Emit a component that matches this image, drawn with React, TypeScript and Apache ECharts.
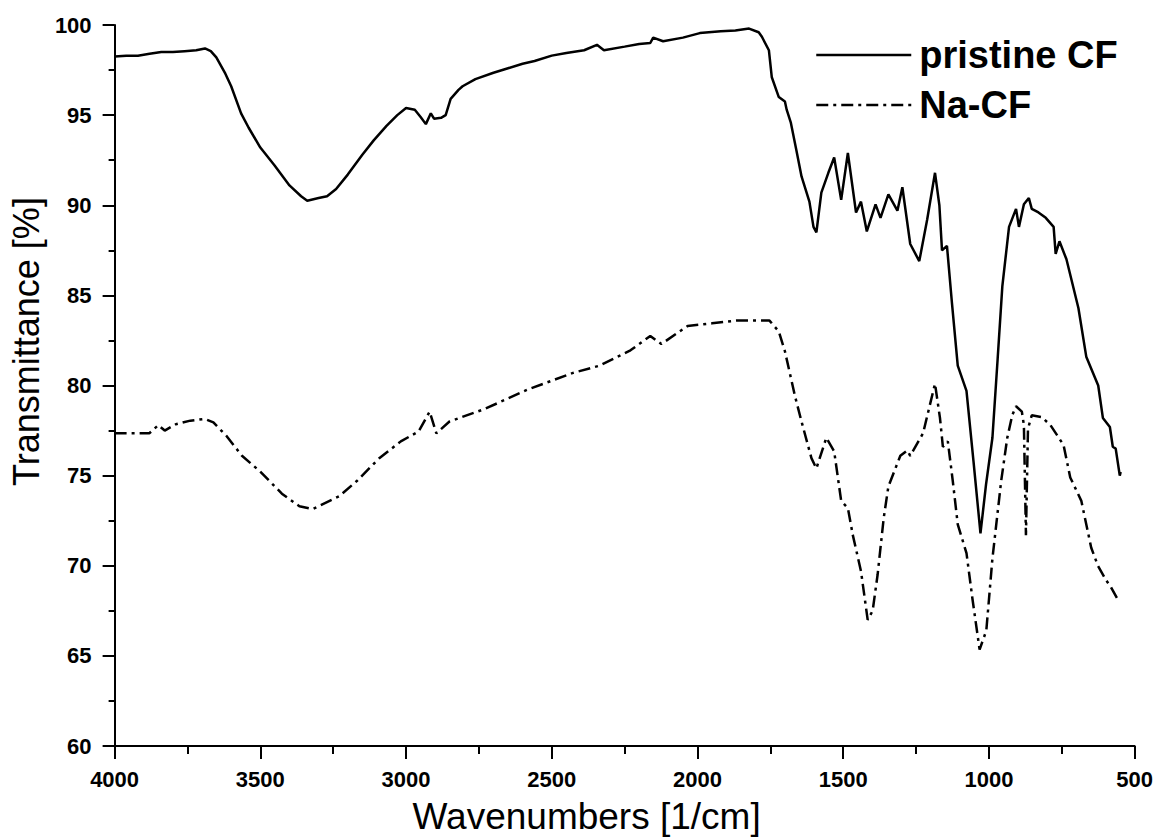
import React, { useEffect, useRef } from "react";
import * as echarts from "echarts";

const pristineWavenumbers = [
  4000, 3960, 3920, 3880, 3840, 3800, 3760, 3720, 3690, 3670, 3651, 3620, 3600, 3566, 3540, 3500, 3451, 3400, 3360, 3339,
  3300, 3271, 3240, 3200, 3150, 3111, 3067, 3030, 3000, 2970, 2950, 2932, 2915, 2904, 2880, 2864, 2847, 2820, 2806, 2762,
  2700, 2650, 2600, 2559, 2500, 2450, 2389, 2345, 2321, 2250, 2200, 2162, 2152, 2118, 2050, 1992, 1920, 1870, 1823, 1790,
  1779, 1755, 1745, 1721, 1700, 1694, 1680, 1660, 1643, 1616, 1602, 1592, 1575, 1551, 1531, 1507, 1484, 1456, 1439, 1419,
  1389, 1372, 1345, 1314, 1297, 1270, 1239, 1212, 1185, 1170, 1161, 1144, 1127, 1107, 1077, 1053, 1029, 1010, 988, 970,
  954, 931, 907, 897, 880, 863, 853, 830, 805, 778, 771, 758, 734, 693, 666, 625, 609, 585, 575, 565,
  551, 548,
];
const pristineValues = [
  98.25, 98.3, 98.3, 98.4, 98.5, 98.5, 98.55, 98.6, 98.7, 98.55, 98.2, 97.3, 96.6, 95.1, 94.3, 93.2, 92.2, 91.1, 90.5, 90.25,
  90.4, 90.5, 90.9, 91.7, 92.8, 93.6, 94.4, 95.0, 95.4, 95.3, 94.9, 94.5, 95.1, 94.8, 94.85, 95.0, 95.9, 96.4, 96.6, 97.0,
  97.35, 97.6, 97.85, 98.0, 98.3, 98.45, 98.6, 98.9, 98.6, 98.8, 98.95, 99.0, 99.3, 99.1, 99.3, 99.55, 99.65, 99.7, 99.8, 99.6,
  99.35, 98.6, 97.1, 96.0, 95.75, 95.3, 94.6, 93.0, 91.6, 90.2, 88.8, 88.5, 90.7, 91.8, 92.65, 90.3, 92.9, 89.6, 90.2, 88.55,
  90.05, 89.3, 90.6, 89.7, 91.0, 87.85, 86.9, 89.2, 91.8, 90.0, 87.5, 87.75, 84.6, 81.1, 79.7, 75.8, 71.8, 74.5, 77.1, 81.5,
  85.5, 88.8, 89.8, 88.8, 90.05, 90.4, 89.8, 89.6, 89.3, 88.8, 87.3, 88.0, 87.0, 84.3, 81.6, 80.0, 78.2, 77.7, 76.6, 76.5,
  75.0, 75.2,
];

const naWavenumbers = [
  4000, 3941, 3881, 3850, 3828, 3790, 3740, 3691, 3661, 3616, 3563, 3502, 3426, 3366, 3320, 3230, 3169, 3093, 3018, 2957,
  2919, 2896, 2851, 2730, 2579, 2427, 2336, 2230, 2162, 2124, 2034, 1950, 1867, 1753, 1721, 1700, 1666, 1643, 1609, 1592,
  1558, 1531, 1507, 1484, 1467, 1439, 1416, 1399, 1382, 1361, 1345, 1304, 1280, 1270, 1226, 1185, 1168, 1158, 1141, 1124,
  1107, 1077, 1056, 1032, 1009, 988, 958, 937, 920, 907, 887, 880, 873, 866, 853, 819, 789, 744, 721, 683,
  649, 626, 598, 581, 557,
];
const naValues = [
  77.35, 77.35, 77.35, 77.8, 77.5, 77.85, 78.05, 78.15, 77.95, 77.2, 76.1, 75.25, 74.0, 73.3, 73.15, 73.85, 74.7, 75.95, 76.9, 77.45,
  78.55, 77.35, 78.0, 78.7, 79.8, 80.7, 81.1, 81.95, 82.75, 82.3, 83.3, 83.45, 83.6, 83.6, 83.0, 81.9, 79.45, 78.0, 75.97, 75.4,
  77.1, 76.35, 73.6, 73.2, 71.7, 69.7, 67.0, 67.5, 69.5, 72.65, 74.4, 76.1, 76.4, 76.1, 77.35, 80.1, 78.2, 76.6, 76.9, 74.7,
  72.3, 70.7, 68.1, 65.35, 66.4, 70.4, 74.7, 77.1, 78.35, 78.85, 78.55, 77.8, 71.7, 77.6, 78.35, 78.25, 77.8, 76.7, 74.9, 73.6,
  71.0, 70.0, 69.2, 68.8, 68.1,
];

const seriesNames = ["pristine CF", "Na-CF"];
const xTitle = "Wavenumbers [1/cm]";
const yTitle = "Transmittance [%]";

const FONT = "'Liberation Sans', Arial, sans-serif";

export default function App() {
  const ref = useRef<HTMLDivElement>(null);
  useEffect(() => {
    if (!ref.current) return;
    const chart = echarts.init(ref.current, undefined, { renderer: "svg" });
    const pristine = pristineWavenumbers.map((w, i) => [w, pristineValues[i]]);
    const na = naWavenumbers.map((w, i) => [w, naValues[i]]);
    chart.setOption({
      animation: false,
      backgroundColor: "#fff",
      grid: { left: 105, right: 19, top: 25, bottom: 91, containLabel: false },
      legend: {
        orient: "vertical",
        left: 810,
        top: 30,
        itemWidth: 95,
        itemHeight: 20,
        itemGap: 10,
        data: seriesNames,
        itemStyle: { opacity: 0, borderWidth: 0 },
        lineStyle: { width: 2.5 },
        textStyle: {
          fontFamily: FONT,
          fontWeight: "bold",
          fontSize: 38,
          lineHeight: 40,
          color: "#000",
          padding: [0, 0, 0, 3],
        },
      },
      xAxis: {
        type: "value",
        inverse: true,
        min: 500,
        max: 4000,
        interval: 500,
        name: xTitle,
        nameLocation: "middle",
        nameGap: 52,
        nameTextStyle: { fontFamily: FONT, fontSize: 37, color: "#000", padding: [0, 76, 0, 0] },
        axisLine: { show: true, lineStyle: { color: "#000", width: 2 } },
        axisTick: { show: true, inside: false, length: 13, lineStyle: { color: "#000", width: 2 } },
        minorTick: { show: true, splitNumber: 2, length: 8, lineStyle: { color: "#000", width: 2 } },
        splitLine: { show: false },
        minorSplitLine: { show: false },
        axisLabel: {
          fontFamily: FONT,
          fontWeight: "bold",
          fontSize: 22,
          color: "#000",
          margin: 22,
          formatter: (v: number) => String(v),
        },
      },
      yAxis: {
        type: "value",
        min: 60,
        max: 100,
        interval: 5,
        name: yTitle,
        nameLocation: "middle",
        nameGap: 60,
        nameTextStyle: { fontFamily: FONT, fontSize: 36, color: "#000", padding: [0, 0, 0, 88] },
        axisLine: { show: true, lineStyle: { color: "#000", width: 2 } },
        axisTick: { show: true, inside: false, length: 12, lineStyle: { color: "#000", width: 2 } },
        minorTick: { show: true, splitNumber: 2, length: 6, lineStyle: { color: "#000", width: 2 } },
        splitLine: { show: false },
        minorSplitLine: { show: false },
        axisLabel: {
          fontFamily: FONT,
          fontWeight: "bold",
          fontSize: 22,
          color: "#000",
          margin: 23,
          formatter: (v: number) => String(v),
        },
      },
      series: [
        {
          name: seriesNames[0],
          type: "line",
          data: pristine,
          symbol: "none",
          lineStyle: { color: "#000", width: 2.5, type: "solid" },
          itemStyle: { color: "#000" },
        },
        {
          name: seriesNames[1],
          type: "line",
          data: na,
          symbol: "none",
          lineStyle: { color: "#000", width: 2.5, type: [12, 5, 3, 5] },
          itemStyle: { color: "#000" },
        },
      ],
    });
    return () => chart.dispose();
  }, []);
  return (
    <div
      ref={ref}
      style={{ position: "fixed", left: 0, top: 0, width: 1156, height: 840, background: "#fff" }}
    />
  );
}
